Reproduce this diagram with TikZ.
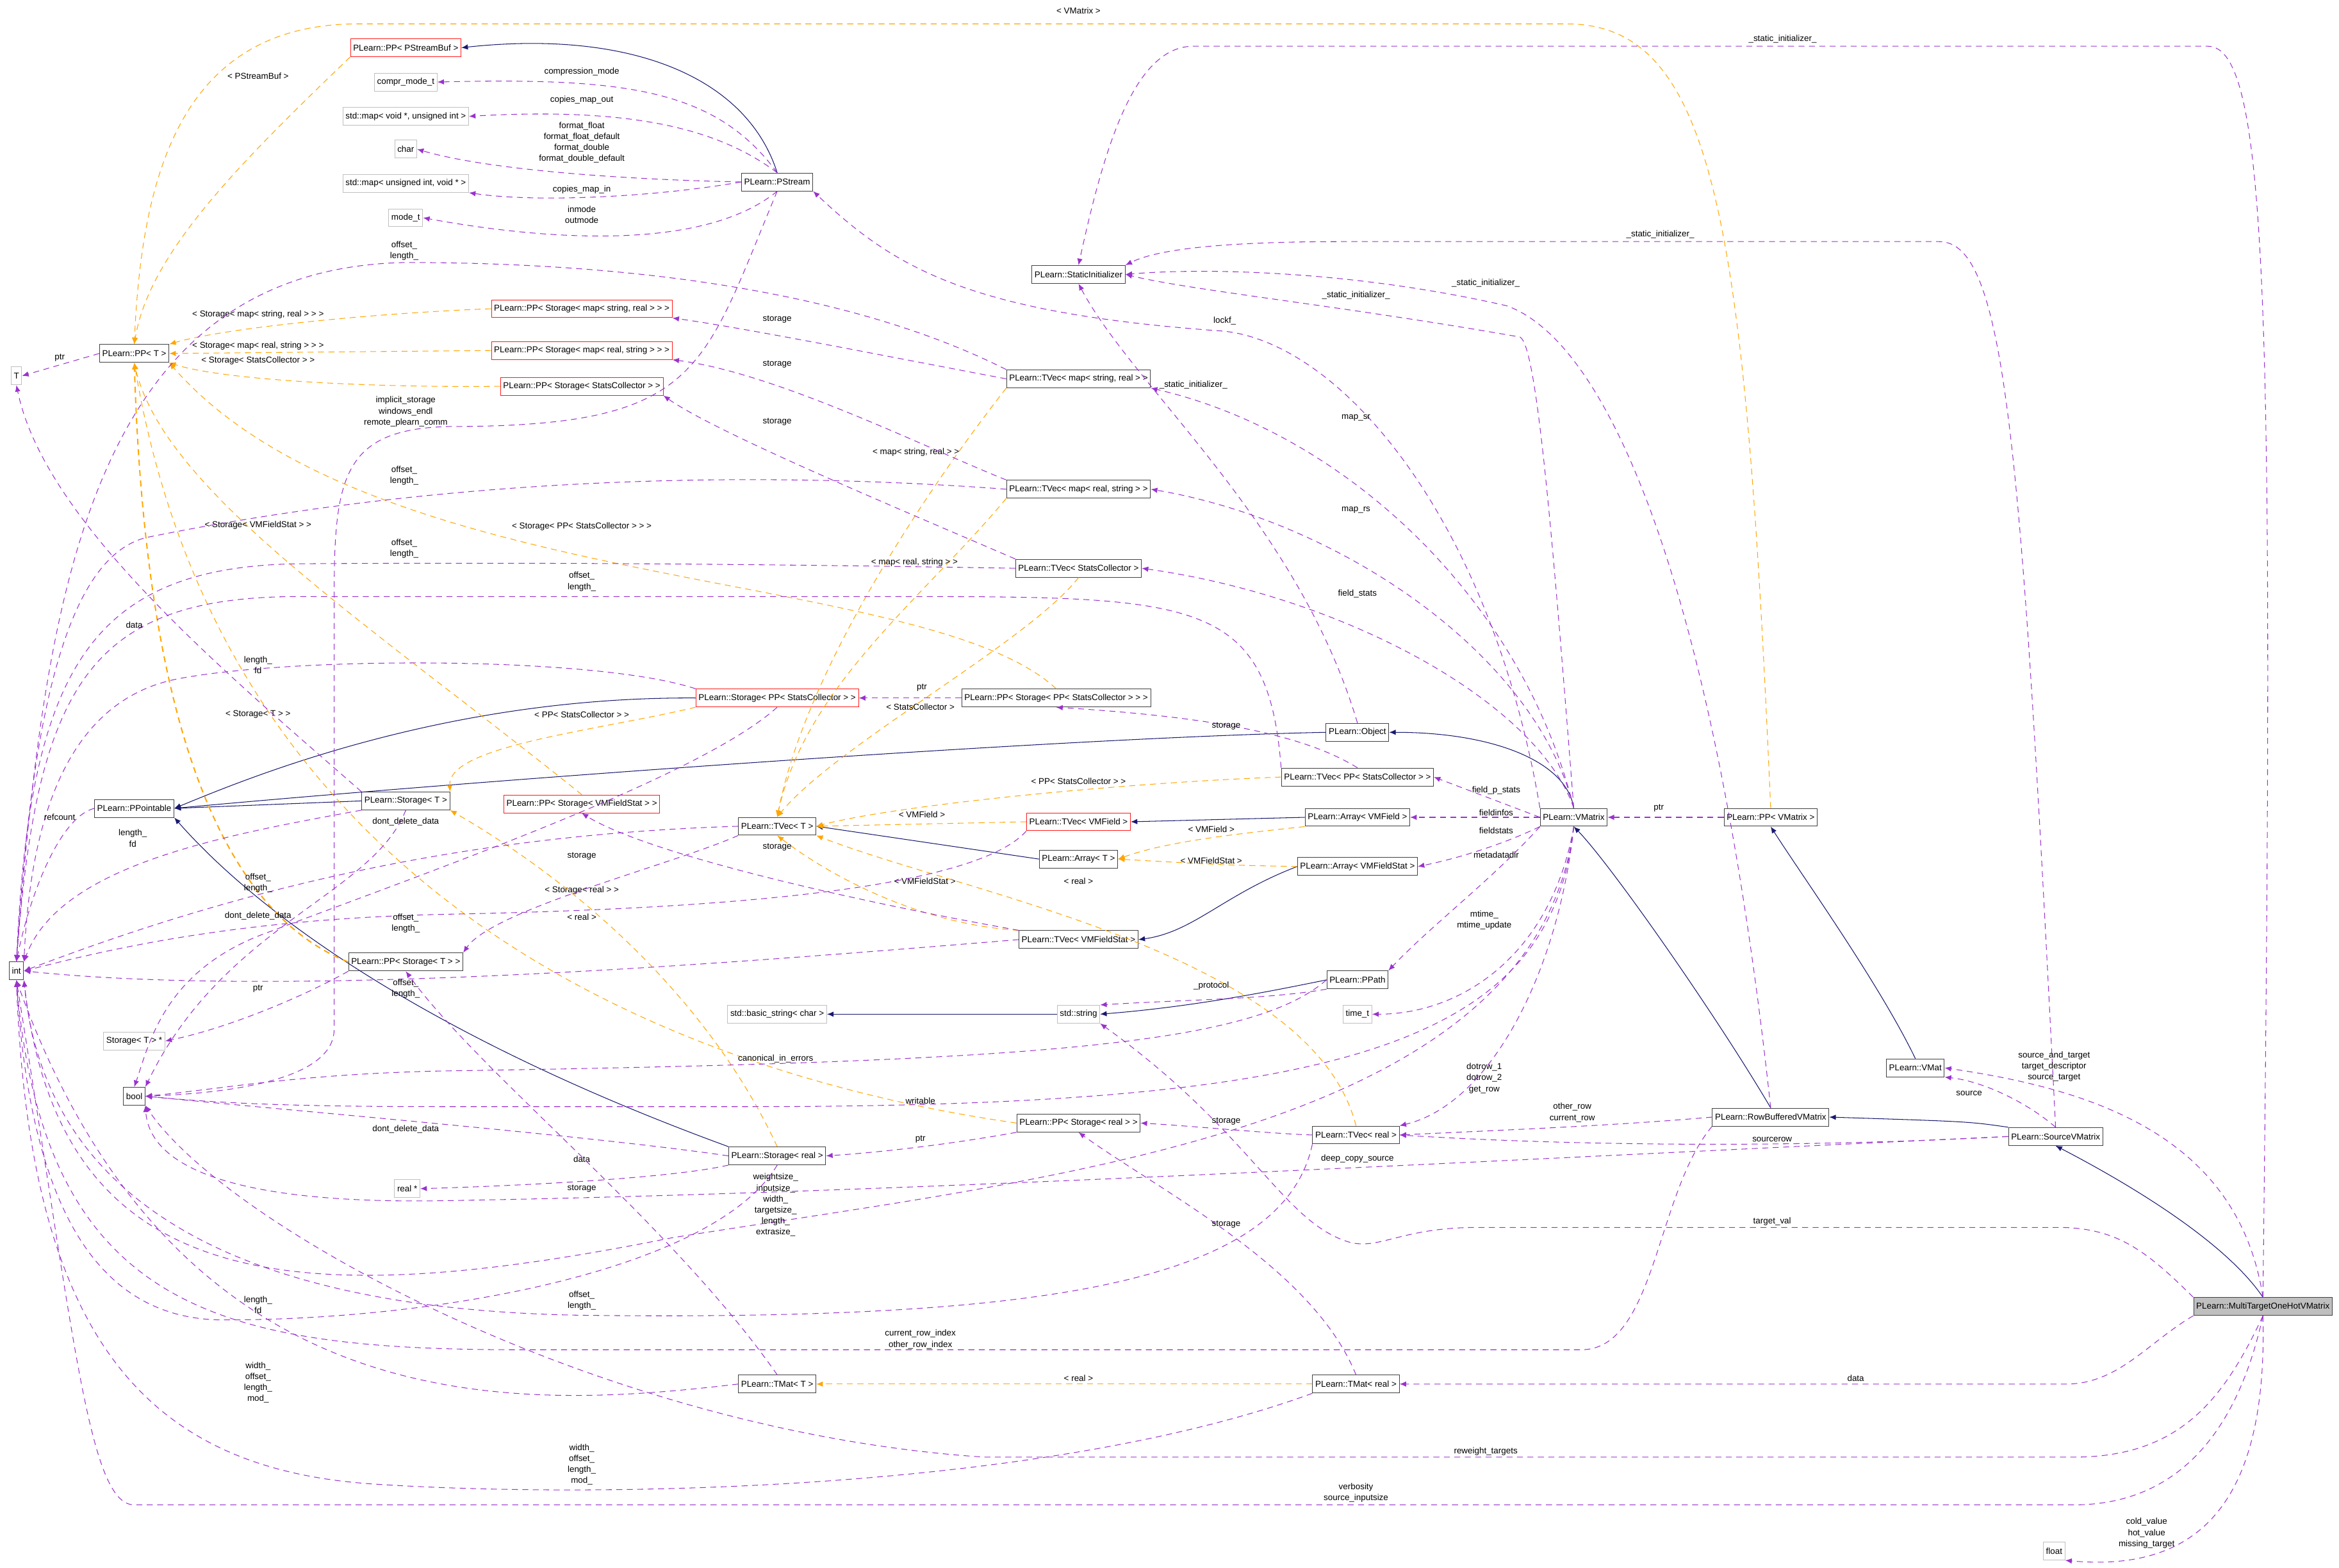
\documentclass[tikz,border=0pt]{standalone}
\usepackage{fontspec}
\setmainfont{Liberation Sans}
\usetikzlibrary{arrows.meta}
\definecolor{purp}{HTML}{9A32CD}
\definecolor{orng}{HTML}{FFA500}
\definecolor{navy}{HTML}{191970}
\newcommand\fsz{\fontsize{4.1}{5.25}\selectfont}
\tikzset{
 box/.style={draw=black!75, line width=0.3pt, minimum height=3mm, inner xsep=0.45mm, inner ysep=0mm, font=\fsz},
 rbox/.style={box, draw=red!90},
 gbox/.style={box, draw=black!25},
 uedge/.style={draw=purp, line width=0.32pt, dash pattern=on 1mm off 0.75mm, -{Latex[length=1.1mm,width=0.9mm]}},
 tedge/.style={draw=orng, line width=0.32pt, dash pattern=on 1mm off 0.75mm, -{Latex[length=1.1mm,width=0.9mm]}},
 iedge/.style={draw=navy, line width=0.32pt, -{Latex[length=1.1mm,width=0.9mm]}},
 lbl/.style={font=\fsz, align=center, inner sep=0pt}
}
\begin{document}
\begin{tikzpicture}[x=0.25mm,y=-0.25mm]
\useasboundingbox (0,0) rectangle (1568,1051);
% nodes
\node[rbox] (pstreambuf) at (272,32) {PLearn::PP< PStreamBuf >};
\node[gbox] (comprmode) at (272,55) {compr\_mode\_t};
\node[gbox] (mapvoid) at (272,78) {std::map< void *, unsigned int >};
\node[gbox] (char) at (272,100) {char};
\node[gbox] (mapuint) at (272,123) {std::map< unsigned int, void * >};
\node[gbox] (modet) at (272,146) {mode\_t};
\node[box] (pstream) at (521,122) {PLearn::PStream};
\node[box] (static) at (723,184) {PLearn::StaticInitializer};
\node[box] (ppt) at (90,237) {PLearn::PP< T >};
\node[gbox] (T) at (11,252) {T};
\node[rbox] (ppsmsr) at (390,207) {PLearn::PP< Storage< map< string, real > > >};
\node[rbox] (ppsmrs) at (390,235) {PLearn::PP< Storage< map< real, string > > >};
\node[rbox] (ppssc) at (390,259) {PLearn::PP< Storage< StatsCollector > >};
\node[box] (tvmsr) at (723,254) {PLearn::TVec< map< string, real > >};
\node[box] (tvmrs) at (723,328) {PLearn::TVec< map< real, string > >};
\node[box] (tvsc) at (723,381) {PLearn::TVec< StatsCollector >};
\node[rbox] (stppsc) at (521,468) {PLearn::Storage< PP< StatsCollector > >};
\node[box] (ppstppsc) at (708,468) {PLearn::PP< Storage< PP< StatsCollector > > >};
\node[box] (object) at (910,491) {PLearn::Object};
\node[box] (tvppsc) at (910,521) {PLearn::TVec< PP< StatsCollector > >};
\node[box] (ppointable) at (90,542) {PLearn::PPointable};
\node[box] (storaget) at (272,537) {PLearn::Storage< T >};
\node[rbox] (ppsvmfs) at (390,539) {PLearn::PP< Storage< VMFieldStat > >};
\node[box] (tvt) at (521,554) {PLearn::TVec< T >};
\node[rbox] (tvvmf) at (723,551) {PLearn::TVec< VMField >};
\node[box] (arrvmf) at (910,548) {PLearn::Array< VMField >};
\node[box] (vmatrix) at (1055,548) {PLearn::VMatrix};
\node[box] (ppvmatrix) at (1187,548) {PLearn::PP< VMatrix >};
\node[box] (arrt) at (723,576) {PLearn::Array< T >};
\node[box] (arrvmfs) at (910,581) {PLearn::Array< VMFieldStat >};
\node[box] (tvvmfs) at (723,630) {PLearn::TVec< VMFieldStat >};
\node[box] (int) at (11,651) {int};
\node[box] (ppstoraget) at (272,645) {PLearn::PP< Storage< T > >};
\node[box] (ppath) at (910,657) {PLearn::PPath};
\node[gbox] (basicstr) at (521,680) {std::basic\_string< char >};
\node[gbox] (stdstr) at (723,680) {std::string};
\node[gbox] (timet) at (910,680) {time\_t};
\node[gbox] (storagetptr) at (90,698) {Storage< T > *};
\node[box] (vmat) at (1284,716) {PLearn::VMat};
\node[box] (bool) at (90,735) {bool};
\node[box] (ppstreal) at (723,753) {PLearn::PP< Storage< real > >};
\node[box] (tvreal) at (909,761) {PLearn::TVec< real >};
\node[box] (rowbuf) at (1187,749) {PLearn::RowBufferedVMatrix};
\node[box] (sourcevm) at (1378,762) {PLearn::SourceVMatrix};
\node[box] (streal) at (521,775) {PLearn::Storage< real >};
\node[gbox] (realptr) at (273,797) {real *};
\node[box] (tmatt) at (521,928) {PLearn::TMat< T >};
\node[box] (tmatreal) at (909,928) {PLearn::TMat< real >};
\node[box, fill=black!25] (multi) at (1517,876) {PLearn::MultiTargetOneHotVMatrix};
\node[gbox] (float) at (1377,1040) {float};

% inheritance
\draw[iedge] (pstream.north) .. controls (500,50) and (420,20) .. (pstreambuf.east);
\draw[iedge] (stppsc.west) .. controls (300,467) and (170,520) .. (ppointable.east);
\draw[iedge] (object.west) .. controls (700,495) and (300,525) .. (ppointable.east);
\draw[iedge] (storaget.west) -- (ppointable.east);
\draw[iedge] (streal.north west) .. controls (300,700) and (180,620) .. (ppointable.south east);
\draw[iedge] (arrvmf.west) -- (tvvmf.east);
\draw[iedge] (arrt.west) -- (tvt.east);
\draw[iedge] (arrvmfs.west) .. controls (820,600) and (800,625) .. (tvvmfs.east);
\draw[iedge] (vmatrix.north) .. controls (1050,510) and (1000,491) .. (object.east);
\draw[iedge] (rowbuf.north) .. controls (1150,680) and (1080,580) .. (vmatrix.south);
\draw[iedge] (sourcevm.north west) .. controls (1320,752) .. (rowbuf.east);
\draw[iedge] (multi.north) .. controls (1490,830) and (1420,790) .. (sourcevm.south);
\draw[iedge] (vmat.north) .. controls (1260,660) and (1210,590) .. (ppvmatrix.south);
\draw[iedge] (stdstr.west) -- (basicstr.east);
\draw[iedge] (ppath.west) .. controls (850,665) and (800,675) .. (stdstr.east);

% templates
\draw[tedge] (pstreambuf.south west) .. controls (160,110) and (100,170) .. (ppt.north);
\node[lbl] at (173,51) {< PStreamBuf >};
\draw[tedge] (ppvmatrix.north) .. controls (1170,150) and (1150,16) .. (1050,16) -- (240,16) .. controls (120,16) and (95,120) .. (ppt.north);
\node[lbl] at (723,7) {< VMatrix >};
\draw[tedge] (ppsmsr.west) .. controls (250,210) and (150,220) .. (ppt.north east);
\node[lbl] at (173,211) {< Storage< map< string, real > > >};
\draw[tedge] (ppsmrs.west) -- (ppt.east);
\node[lbl] at (173,232) {< Storage< map< real, string > > >};
\draw[tedge] (ppssc.west) .. controls (250,260) and (150,255) .. (ppt.south east);
\node[lbl] at (173,242) {< Storage< StatsCollector > >};
\draw[tedge] (ppstppsc.north) .. controls (620,380) and (250,400) .. (ppt.south east);
\node[lbl] at (390,353) {< Storage< PP< StatsCollector > > >};
\draw[tedge] (ppsvmfs.north) .. controls (250,420) and (110,330) .. (ppt.south);
\node[lbl] at (173,352) {< Storage< VMFieldStat > >};
\draw[tedge, line width=0.6pt] (ppstoraget.west) .. controls (120,600) and (95,400) .. (ppt.south);
\node[lbl] at (173,479) {< Storage< T > >};
\draw[tedge] (ppstreal.west) .. controls (450,720) and (150,600) .. (ppt.south);
\node[lbl] at (390,597) {< Storage< real > >};
\draw[tedge] (stppsc.south west) .. controls (400,490) and (300,500) .. (storaget.north east);
\node[lbl] at (390,479) {< PP< StatsCollector > >};
\draw[tedge] (streal.north) .. controls (480,680) and (400,600) .. (storaget.south east);
\node[lbl] at (390,615) {< real >};
\draw[tedge] (tvmsr.south west) .. controls (620,330) and (540,450) .. (tvt.north);
\node[lbl] at (614,303) {< map< string, real > >};
\draw[tedge] (tvmrs.south west) .. controls (620,400) and (540,460) .. (tvt.north);
\node[lbl] at (613,377) {< map< real, string > >};
\draw[tedge] (tvsc.south) .. controls (690,430) and (560,500) .. (tvt.north);
\node[lbl] at (617,474) {< StatsCollector >};
\draw[tedge] (tvppsc.west) .. controls (750,525) and (600,540) .. (tvt.east);
\node[lbl] at (723,524) {< PP< StatsCollector > >};
\draw[tedge] (tvvmf.west) -- (tvt.east);
\node[lbl] at (618,546) {< VMField >};
\draw[tedge] (arrvmf.south west) .. controls (820,560) and (780,565) .. (arrt.east);
\node[lbl] at (812,556) {< VMField >};
\draw[tedge] (arrvmfs.west) .. controls (820,580) .. (arrt.east);
\node[lbl] at (812,577) {< VMFieldStat >};
\draw[tedge] (tvvmfs.north west) .. controls (620,620) and (560,590) .. (tvt.south);
\node[lbl] at (620,591) {< VMFieldStat >};
\draw[tedge] (tvreal.north) .. controls (880,640) and (650,600) .. (tvt.south east);
\node[lbl] at (723,591) {< real >};
\draw[tedge] (tmatreal.west) -- (tmatt.east);
\node[lbl] at (723,924) {< real >};

% usage
\draw[uedge] (pstream.north) .. controls (480,60) and (420,52) .. (comprmode.east);
\node[lbl] at (390,48) {compression\_mode};
\draw[uedge] (pstream.north) .. controls (480,85) and (420,72) .. (mapvoid.east);
\node[lbl] at (390,67) {copies\_map\_out};
\draw[uedge] (pstream.west) .. controls (400,120) and (320,112) .. (char.east);
\node[lbl] at (390,95.5) {format\_float\\format\_float\_default\\format\_double\\format\_double\_default};
\draw[uedge] (pstream.west) .. controls (440,132) and (360,136) .. (mapuint.south east);
\node[lbl] at (390,127) {copies\_map\_in};
\draw[uedge] (pstream.south) .. controls (470,170) and (360,160) .. (modet.east);
\node[lbl] at (390,144) {inmode\\outmode};
\draw[uedge] (pstream.south) .. controls (470,250) and (470,286) .. (300,286) .. controls (230,288) and (224,320) .. (224,400) -- (224,690) .. controls (224,725) and (150,733) .. (bool.east);
\node[lbl] at (272,276) {implicit\_storage\\windows\_endl\\remote\_plearn\_comm};
\draw[uedge] (ppt.west) -- (T.east);
\node[lbl] at (40,240) {ptr};
\draw[uedge] (tvmsr.west) .. controls (600,240) and (500,220) .. (ppsmsr.south east);
\node[lbl] at (521,214) {storage};
\draw[uedge] (tvmsr.north west) .. controls (560,190) and (400,176) .. (272,176) .. controls (60,180) and (30,400) .. (int.north);
\node[lbl] at (271,168) {offset\_\\length\_};
\draw[uedge] (tvmrs.north west) .. controls (620,300) and (520,250) .. (ppsmrs.south east);
\node[lbl] at (521,244) {storage};
\draw[uedge] (tvmrs.west) .. controls (500,315) and (300,320) .. (100,360) .. controls (40,372) and (20,500) .. (int.north);
\node[lbl] at (271,319) {offset\_\\length\_};
\draw[uedge] (tvsc.north west) .. controls (600,340) and (480,290) .. (ppssc.south east);
\node[lbl] at (521,283) {storage};
\draw[uedge] (tvsc.west) .. controls (500,378) and (350,377) .. (200,378) .. controls (60,380) and (20,450) .. (int.north);
\node[lbl] at (271,368) {offset\_\\length\_};
\draw[uedge] (tvppsc.north) .. controls (870,490) and (800,480) .. (ppstppsc.south);
\node[lbl] at (822,487) {storage};
\draw[uedge] (tvppsc.north west) .. controls (850,400) and (800,400) .. (600,400) -- (200,400) .. controls (60,400) and (25,460) .. (int.north);
\node[lbl] at (390,390) {offset\_\\length\_};
\draw[uedge] (ppstppsc.west) -- (stppsc.east);
\node[lbl] at (618,461) {ptr};
\draw[uedge] (stppsc.north west) .. controls (400,440) and (200,440) .. (120,455) .. controls (40,470) and (20,560) .. (int.north east);
\node[lbl] at (173,446) {length\_\\fd};
\draw[uedge] (stppsc.south) .. controls (470,520) and (300,580) .. (180,625) .. controls (110,650) and (100,700) .. (bool.north);
\node[lbl] at (173,614) {dont\_delete\_data};
\draw[uedge] (storaget.north west) .. controls (150,450) and (30,350) .. (T.south);
\node[lbl] at (90,419) {data};
\draw[uedge] (storaget.south west) .. controls (150,560) and (40,580) .. (int.north east);
\node[lbl] at (89,562) {length\_\\fd};
\draw[uedge] (storaget.south) .. controls (250,600) and (150,620) .. (bool.north east);
\node[lbl] at (272,551) {dont\_delete\_data};
\draw[uedge] (ppointable.west) .. controls (40,548) and (20,600) .. (int.north);
\node[lbl] at (40,548) {refcount};
\draw[uedge] (ppstoraget.south west) .. controls (200,670) and (150,690) .. (storagetptr.east);
\node[lbl] at (173,663) {ptr};
\draw[uedge] (tvt.south west) .. controls (450,580) and (330,610) .. (ppstoraget.north east);
\node[lbl] at (390,574) {storage};
\draw[uedge] (tvt.west) .. controls (300,560) and (150,600) .. (int.east);
\node[lbl] at (173,592) {offset\_\\length\_};
\draw[uedge] (tvvmf.south west) .. controls (650,600) and (450,610) .. (300,613) .. controls (150,616) and (60,640) .. (int.east);
\node[lbl] at (272,619) {offset\_\\length\_};
\draw[uedge] (tvvmfs.north west) .. controls (550,600) and (430,570) .. (ppsvmfs.south);
\node[lbl] at (521,568) {storage};
\draw[uedge] (tvvmfs.west) .. controls (500,645) and (200,670) .. (int.east);
\node[lbl] at (272,663) {offset\_\\length\_};
\draw[uedge] (ppath.south west) .. controls (850,670) and (800,670) .. (stdstr.north east);
\node[lbl] at (812,661) {\_protocol};
\draw[uedge] (ppath.west) .. controls (840,700) and (700,712) .. (300,718) .. controls (200,720) and (150,730) .. (bool.east);
\node[lbl] at (520,710) {canonical\_in\_errors};
\draw[uedge] (object.north) .. controls (870,350) and (760,260) .. (static.south);
\node[lbl] at (800,258) {\_static\_initializer\_};
\draw[uedge] (vmatrix.north) .. controls (1040,350) and (1030,232) .. (1019,226) .. controls (900,205) and (800,195) .. (static.east);
\node[lbl] at (909,198) {\_static\_initializer\_};
\draw[uedge] (rowbuf.north) .. controls (1150,400) and (1080,230) .. (1010,205) .. controls (900,180) and (800,180) .. (static.east);
\node[lbl] at (996,190) {\_static\_initializer\_};
\draw[uedge] (sourcevm.north) .. controls (1355,300) and (1345,162) .. (1300,162) -- (900,162) .. controls (800,162) and (770,170) .. (static.north east);
\node[lbl] at (1113,157) {\_static\_initializer\_};
\draw[uedge] (multi.north) .. controls (1525,200) and (1520,31) .. (1480,31) -- (800,31) .. controls (760,31) and (740,100) .. (static.north);
\node[lbl] at (1195,26) {\_static\_initializer\_};
\draw[uedge] (vmatrix.north west) .. controls (1000,350) and (900,230) .. (820,222) .. controls (650,210) and (600,180) .. (pstream.south east);
\node[lbl] at (821,215) {lockf\_};
\draw[uedge] (vmatrix.north) .. controls (1020,400) and (900,290) .. (tvmsr.south east);
\node[lbl] at (909,280) {map\_sr};
\draw[uedge] (vmatrix.north) .. controls (1030,440) and (900,350) .. (tvmrs.east);
\node[lbl] at (909,342) {map\_rs};
\draw[uedge] (vmatrix.north) .. controls (1030,470) and (900,400) .. (tvsc.east);
\node[lbl] at (910,398) {field\_stats};
\draw[uedge] (vmatrix.west) -- (tvppsc.east);
\node[lbl] at (1003,530) {field\_p\_stats};
\draw[uedge] (vmatrix.west) -- (arrvmf.east);
\node[lbl] at (1003,545) {fieldinfos};
\draw[uedge] (vmatrix.south west) .. controls (1010,565) and (980,575) .. (arrvmfs.east);
\node[lbl] at (1003,557) {fieldstats};
\draw[uedge] (vmatrix.south west) .. controls (1000,590) and (960,620) .. (ppath.north east);
\node[lbl] at (1003,573) {metadatadir};
\draw[uedge] (vmatrix.south) .. controls (1040,640) and (980,680) .. (timet.east);
\node[lbl] at (995,617) {mtime\_\\mtime\_update};
\draw[uedge] (vmatrix.south) .. controls (1045,650) and (1000,740) .. (tvreal.north east);
\node[lbl] at (995,723) {dotrow\_1\\dotrow\_2\\get\_row};
\draw[uedge] (vmatrix.south) .. controls (1040,700) and (900,742) .. (500,742) -- (300,742) .. controls (200,742) and (150,740) .. (bool.east);
\node[lbl] at (617,738) {writable};
\draw[uedge] (vmatrix.south) .. controls (1030,760) and (700,790) .. (450,830) .. controls (200,880) and (40,870) .. (int.south east);
\node[lbl] at (520,808) {weightsize\_\\inputsize\_\\width\_\\targetsize\_\\length\_\\extrasize\_};
\draw[uedge] (ppvmatrix.west) -- (vmatrix.east);
\node[lbl] at (1112,542) {ptr};
\draw[uedge] (rowbuf.west) .. controls (1080,755) and (1000,758) .. (tvreal.east);
\node[lbl] at (1054,746) {other\_row\\current\_row};
\draw[uedge] (rowbuf.south west) .. controls (1110,800) and (1110,905) .. (1060,905) -- (350,905) .. controls (150,905) and (30,880) .. (int.south);
\node[lbl] at (617,898) {current\_row\_index\\other\_row\_index};
\draw[uedge] (sourcevm.north) .. controls (1360,740) and (1330,725) .. (vmat.south east);
\node[lbl] at (1320,733) {source};
\draw[uedge] (sourcevm.west) .. controls (1200,770) and (1050,768) .. (tvreal.east);
\node[lbl] at (1188,764) {sourcerow};
\draw[uedge] (sourcevm.west) .. controls (1000,778) and (600,800) .. (300,805) .. controls (150,808) and (100,780) .. (bool.south east);
\node[lbl] at (910,777) {deep\_copy\_source};
\draw[uedge] (multi.north) .. controls (1500,760) and (1400,730) .. (vmat.east);
\node[lbl] at (1377,715) {source\_and\_target\\target\_descriptor\\source\_target};
\draw[uedge] (multi.north west) .. controls (1440,840) and (1420,823) .. (1380,823) -- (990,823) .. controls (940,823) and (925,838) .. (905,833) .. controls (860,820) and (840,760) .. (stdstr.south east);
\node[lbl] at (1188,819) {target\_val};
\draw[uedge] (multi.south west) .. controls (1440,900) and (1420,928) .. (1385,928) -- (tmatreal.east);
\node[lbl] at (1244,924) {data};
\draw[uedge] (multi.south) .. controls (1490,940) and (1460,977) .. (1390,977) -- (660,977) .. controls (400,960) and (150,820) .. (bool.south east);
\node[lbl] at (996,973) {reweight\_targets};
\draw[uedge] (multi.south) .. controls (1500,960) and (1460,1009) .. (1390,1009) -- (90,1009) .. controls (60,1009) and (50,900) .. (int.south);
\node[lbl] at (909,1001) {verbosity\\source\_inputsize};
\draw[uedge] (multi.south) .. controls (1520,1000) and (1480,1055) .. (float.south east);
\node[lbl] at (1439,1028) {cold\_value\\hot\_value\\missing\_target};
\draw[uedge] (tvreal.west) .. controls (850,760) and (800,755) .. (ppstreal.east);
\node[lbl] at (822,752) {storage};
\draw[uedge] (tvreal.south west) .. controls (860,860) and (700,885) .. (400,882) .. controls (150,880) and (30,800) .. (int.south east);
\node[lbl] at (390,872) {offset\_\\length\_};
\draw[uedge] (ppstreal.south west) .. controls (650,765) and (600,772) .. (streal.east);
\node[lbl] at (617,764) {ptr};
\draw[uedge] (streal.south west) .. controls (450,790) and (350,795) .. (realptr.east);
\node[lbl] at (390,777) {data};
\draw[uedge] (streal.west) .. controls (400,762) and (200,745) .. (bool.east);
\node[lbl] at (272,757) {dont\_delete\_data};
\draw[uedge] (streal.south) .. controls (480,850) and (300,885) .. (150,885) .. controls (60,885) and (20,800) .. (int.south);
\node[lbl] at (173,875) {length\_\\fd};
\draw[uedge] (tmatt.north) .. controls (450,820) and (322,720) .. (ppstoraget.south);
\node[lbl] at (390,797) {storage};
\draw[uedge] (tmatt.west) .. controls (350,945) and (120,960) .. (int.south);
\node[lbl] at (173,927) {width\_\\offset\_\\length\_\\mod\_};
\draw[uedge] (tmatreal.north) .. controls (880,850) and (780,800) .. (ppstreal.south);
\node[lbl] at (822,821) {storage};
\draw[uedge] (tmatreal.south west) .. controls (700,1000) and (400,1005) .. (250,995) .. controls (100,985) and (20,900) .. (int.south);
\node[lbl] at (390,982) {width\_\\offset\_\\length\_\\mod\_};
\end{tikzpicture}
\end{document}
